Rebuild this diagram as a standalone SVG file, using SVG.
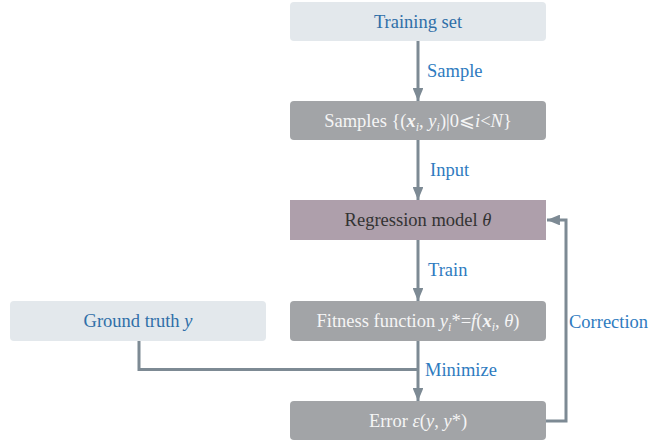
<svg xmlns="http://www.w3.org/2000/svg" width="651" height="444" viewBox="0 0 651 444">
  <style>
    text { font-family: "Liberation Serif", "Times New Roman", serif; font-size: 18.5px; }
    .light { fill: #e3e8ec; }
    .dark { fill: #a2a4a7; }
    .model { fill: #ae9fab; }
    .t-blue { fill: #2f6fa8; text-anchor: middle; }
    .t-white { fill: #f5f5f5; text-anchor: middle; }
    .t-dark { fill: #333333; text-anchor: middle; }
    .lbl { fill: #2e7bc0; }
    .conn { fill: none; stroke: #7d8a94; stroke-width: 3; }
    .sub { font-size: 12px; }
  </style>
  <defs>
    <marker id="arrow" viewBox="0 0 12 10" refX="12" refY="5" markerWidth="4.4" markerHeight="3.6" markerUnits="strokeWidth" orient="auto">
      <path d="M0,0 L12,5 L0,10 z" fill="#7d8a94"/>
    </marker>
  </defs>

  <g id="connectors">
    <line class="conn" x1="418" y1="41" x2="418" y2="101" marker-end="url(#arrow)"/>
    <line class="conn" x1="418" y1="140" x2="418" y2="200" marker-end="url(#arrow)"/>
    <line class="conn" x1="418" y1="240" x2="418" y2="301" marker-end="url(#arrow)"/>
    <line class="conn" x1="418" y1="341" x2="418" y2="401" marker-end="url(#arrow)"/>
    <polyline class="conn" points="139,341 139,369.5 418,369.5"/>
    <polyline class="conn" points="546,421 566,421 566,220 547,220" marker-end="url(#arrow)"/>
    <text class="lbl" x="427" y="77">Sample</text>
    <text class="lbl" x="430" y="176">Input</text>
    <text class="lbl" x="428" y="276">Train</text>
    <text class="lbl" x="425" y="376">Minimize</text>
    <text class="lbl" x="569" y="328">Correction</text>
  </g>

  <g id="training-set">
    <rect class="light" x="290" y="2" width="256" height="39" rx="4"/>
    <text class="t-blue" x="418" y="28">Training set</text>
  </g>

  <g id="samples">
    <rect class="dark" x="290" y="101" width="256" height="39" rx="4"/>
    <text class="t-white" x="418" y="127">Samples {(<tspan font-weight="bold" font-style="italic">x</tspan><tspan class="sub" font-style="italic" dy="4">i</tspan><tspan dy="-4">, </tspan><tspan font-style="italic">y</tspan><tspan class="sub" font-style="italic" dy="4">i</tspan><tspan dy="-4">)|0⩽</tspan><tspan font-style="italic">i</tspan>&lt;<tspan font-style="italic">N</tspan>}</text>
  </g>

  <g id="regression-model">
    <rect class="model" x="290" y="200" width="256" height="40"/>
    <text class="t-dark" x="418" y="226">Regression model <tspan font-style="italic">θ</tspan></text>
  </g>

  <g id="ground-truth">
    <rect class="light" x="10" y="301" width="256" height="40" rx="4"/>
    <text class="t-blue" x="138" y="327">Ground truth <tspan font-style="italic">y</tspan></text>
  </g>

  <g id="fitness-function">
    <rect class="dark" x="290" y="301" width="256" height="40" rx="4"/>
    <text class="t-white" x="418" y="327">Fitness function <tspan font-style="italic">y</tspan><tspan class="sub" font-style="italic" dy="4">i</tspan><tspan dy="-4">*=</tspan><tspan font-style="italic">f</tspan>(<tspan font-weight="bold" font-style="italic">x</tspan><tspan class="sub" font-style="italic" dy="4">i</tspan><tspan dy="-4">, </tspan><tspan font-style="italic">θ</tspan>)</text>
  </g>

  <g id="error">
    <rect class="dark" x="290" y="401" width="256" height="39" rx="4"/>
    <text class="t-white" x="418" y="427">Error <tspan font-style="italic">ε</tspan>(<tspan font-style="italic">y</tspan>, <tspan font-style="italic">y</tspan>*)</text>
  </g>
</svg>
